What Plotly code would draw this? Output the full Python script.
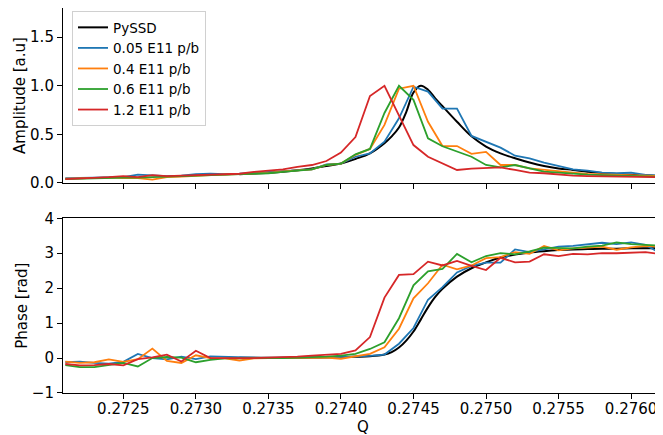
import plotly.graph_objects as go
from plotly.subplots import make_subplots

# measured tune scan, one point every 1e-4 in Q
q = [round(0.2721 + 0.0001 * i, 4) for i in range(42)]

labels = ["0.05 E11 p/b", "0.4 E11 p/b", "0.6 E11 p/b", "1.2 E11 p/b"]
colors = ["#1f77b4", "#ff7f0e", "#2ca02c", "#d62728"]

amp_005 = [0.05, 0.05, 0.055, 0.06, 0.06, 0.085, 0.075, 0.07, 0.075, 0.09, 0.095, 0.09, 0.095, 0.105,
           0.11, 0.12, 0.13, 0.14, 0.19, 0.2, 0.27, 0.305, 0.425, 0.665, 0.99, 0.94, 0.765, 0.765,
           0.484, 0.425, 0.364, 0.281, 0.254, 0.21, 0.178, 0.14, 0.127, 0.106, 0.1, 0.106, 0.082, 0.075]
amp_04 = [0.045, 0.05, 0.055, 0.055, 0.05, 0.05, 0.035, 0.06, 0.065, 0.075, 0.08, 0.085, 0.09, 0.1,
          0.105, 0.12, 0.13, 0.14, 0.185, 0.2, 0.29, 0.35, 0.597, 0.97, 1.0, 0.63, 0.38, 0.38,
          0.3, 0.32, 0.185, 0.185, 0.15, 0.134, 0.116, 0.106, 0.093, 0.09, 0.082, 0.08, 0.075, 0.072]
amp_06 = [0.04, 0.045, 0.05, 0.05, 0.055, 0.055, 0.06, 0.06, 0.065, 0.07, 0.075, 0.08, 0.085, 0.095,
          0.1, 0.115, 0.13, 0.14, 0.185, 0.2, 0.295, 0.35, 0.72, 1.0, 0.855, 0.46, 0.378, 0.32,
          0.27, 0.185, 0.16, 0.185, 0.15, 0.116, 0.106, 0.093, 0.085, 0.08, 0.075, 0.07, 0.068, 0.065]
amp_12 = [0.04, 0.045, 0.05, 0.06, 0.07, 0.06, 0.08, 0.07, 0.075, 0.08, 0.085, 0.09, 0.095, 0.114,
          0.125, 0.14, 0.165, 0.185, 0.226, 0.312, 0.473, 0.895, 1.0, 0.7, 0.39, 0.27, 0.205, 0.134,
          0.147, 0.15, 0.16, 0.134, 0.106, 0.1, 0.085, 0.075, 0.07, 0.068, 0.065, 0.062, 0.06, 0.06]

phase_005 = [-0.12, -0.1, -0.14, -0.16, -0.11, 0.12, 0.0, -0.04, 0.04, -0.03, 0.05, 0.04, 0.01, 0.0,
             0.0, 0.01, 0.0, 0.01, 0.01, 0.02, 0.05, 0.06, 0.1, 0.41, 0.86, 1.67, 2.03, 2.45,
             2.64, 2.73, 2.73, 3.11, 3.03, 3.1, 3.19, 3.21, 3.26, 3.3, 3.26, 3.31, 3.24, 3.0]
phase_04 = [-0.1, -0.14, -0.12, -0.04, -0.11, -0.03, 0.27, -0.08, -0.14, 0.08, 0.0, -0.01, -0.07, -0.01,
            0.0, 0.0, 0.01, 0.0, 0.01, -0.02, 0.05, 0.12, 0.31, 0.84, 1.71, 2.14, 2.67, 2.54,
            2.65, 2.86, 2.89, 3.03, 2.98, 3.21, 3.08, 3.14, 3.16, 3.19, 3.1, 3.17, 3.21, 3.19]
phase_06 = [-0.2, -0.26, -0.26, -0.2, -0.14, -0.24, 0.0, 0.03, 0.01, -0.12, -0.05, -0.01, 0.0, 0.0,
            0.0, 0.0, 0.01, 0.02, 0.04, 0.07, 0.12, 0.26, 0.45, 1.14, 2.08, 2.48, 2.55, 2.98,
            2.74, 2.92, 3.0, 2.97, 3.05, 3.16, 3.16, 3.14, 3.19, 3.22, 3.31, 3.26, 3.24, 3.22]
phase_12 = [-0.17, -0.21, -0.2, -0.17, -0.21, -0.03, 0.02, 0.1, -0.1, 0.21, 0.0, 0.01, 0.0, 0.0,
            0.01, 0.02, 0.04, 0.07, 0.1, 0.12, 0.22, 0.6, 1.73, 2.38, 2.4, 2.76, 2.65, 2.78,
            2.64, 2.52, 2.87, 2.74, 2.76, 2.97, 2.92, 2.98, 2.97, 3.0, 3.0, 3.02, 3.03, 2.98]

# PySSD reference, read on a finer grid round the peak
q_pyssd = [0.2733, 0.2735, 0.2736, 0.2737,
           0.2738, 0.2739, 0.2740, 0.2741, 0.2742, 0.2743, 0.27435, 0.2744, 0.27445, 0.2745,
           0.27455, 0.2746, 0.27465, 0.2747, 0.2748, 0.2749, 0.2750, 0.2751, 0.2752, 0.2753,
           0.2754, 0.2755, 0.2756, 0.2757, 0.2758, 0.2759, 0.2760, 0.2761, 0.2762]
amp_pyssd = [0.09, 0.105, 0.115, 0.13,
             0.15, 0.175, 0.2, 0.247, 0.305, 0.41, 0.48, 0.57, 0.73, 0.93,
             1.0, 0.96, 0.87, 0.79, 0.63, 0.48, 0.375, 0.305, 0.254, 0.21,
             0.175, 0.15, 0.134, 0.116, 0.103, 0.093, 0.085, 0.079, 0.073]
phase_pyssd = [0.01, 0.01, 0.01, 0.01,
               0.015, 0.02, 0.025, 0.035, 0.05, 0.1, 0.17, 0.3, 0.5, 0.76,
               1.1, 1.45, 1.75, 1.98, 2.33, 2.57, 2.74, 2.88, 2.96, 3.02,
               3.06, 3.09, 3.11, 3.12, 3.13, 3.13, 3.14, 3.14, 3.14]

amps = [amp_005, amp_04, amp_06, amp_12]
phases = [phase_005, phase_04, phase_06, phase_12]

fig = make_subplots(rows=2, cols=1, shared_xaxes=True)

fig.add_trace(go.Scatter(x=q_pyssd, y=amp_pyssd, mode="lines", name="PySSD",
                         line=dict(color="black", width=2, shape="spline")), row=1, col=1)
for k in range(4):
    fig.add_trace(go.Scatter(x=q, y=amps[k], mode="lines", name=labels[k],
                             line=dict(color=colors[k], width=1.8)), row=1, col=1)

fig.add_trace(go.Scatter(x=q_pyssd, y=phase_pyssd, mode="lines", showlegend=False,
                         line=dict(color="black", width=2, shape="spline")), row=2, col=1)
for k in range(4):
    fig.add_trace(go.Scatter(x=q, y=phases[k], mode="lines", showlegend=False,
                             line=dict(color=colors[k], width=1.8)), row=2, col=1)

axis_font = dict(family="DejaVu Sans", size=15, color="black")
common_x = dict(range=[0.272084, 0.27622], showline=True, linecolor="black", linewidth=1.1,
                mirror=True, ticks="outside", ticklen=5, tickcolor="black", showgrid=False,
                zeroline=False, dtick=0.0005, tick0=0.2725, tickformat=".4f", tickfont=axis_font,
                automargin=False)
fig.update_xaxes(**common_x)
fig.update_xaxes(showticklabels=False, row=1, col=1)
fig.update_xaxes(title=dict(text="Q", font=axis_font, standoff=0), ticklabelstandoff=-3, row=2, col=1)

common_y = dict(showline=True, linecolor="black", linewidth=1.1, mirror=False, ticks="outside",
                ticklen=5, tickcolor="black", showgrid=False, zeroline=False, tickfont=axis_font,
                automargin=False)
fig.update_yaxes(**common_y)
fig.update_yaxes(range=[0, 1.8], tickvals=[0, 0.5, 1.0, 1.5], ticktext=["0.0", "0.5", "1.0", "1.5"],
                 title=dict(text="Amplitude [a.u]", font=axis_font, standoff=0), row=1, col=1)
fig.update_yaxes(range=[-1, 4], tickvals=[-1, 0, 1, 2, 3, 4], ticktext=["\u22121", "0", "1", "2", "3", "4"],
                 title=dict(text="Phase [rad]", font=axis_font, standoff=0), row=2, col=1)

# the page puts the figure 8px in from the top-left, so margins are shifted by that much
fig.update_layout(
    width=663, height=435,
    margin=dict(l=55, r=8, t=0, b=50),
    plot_bgcolor="white", paper_bgcolor="white",
    font=dict(family="DejaVu Sans", color="black"),
    yaxis=dict(domain=[0.5455, 1.0]),
    yaxis2=dict(domain=[0.0, 0.4538]),
    legend=dict(x=0.015, y=0.992, xanchor="left", yanchor="top",
                bgcolor="rgba(255,255,255,0.8)", bordercolor="#d0d0d0", borderwidth=1,
                font=dict(family="DejaVu Sans", size=13.5, color="black")),
)

fig.write_html("out.html")
